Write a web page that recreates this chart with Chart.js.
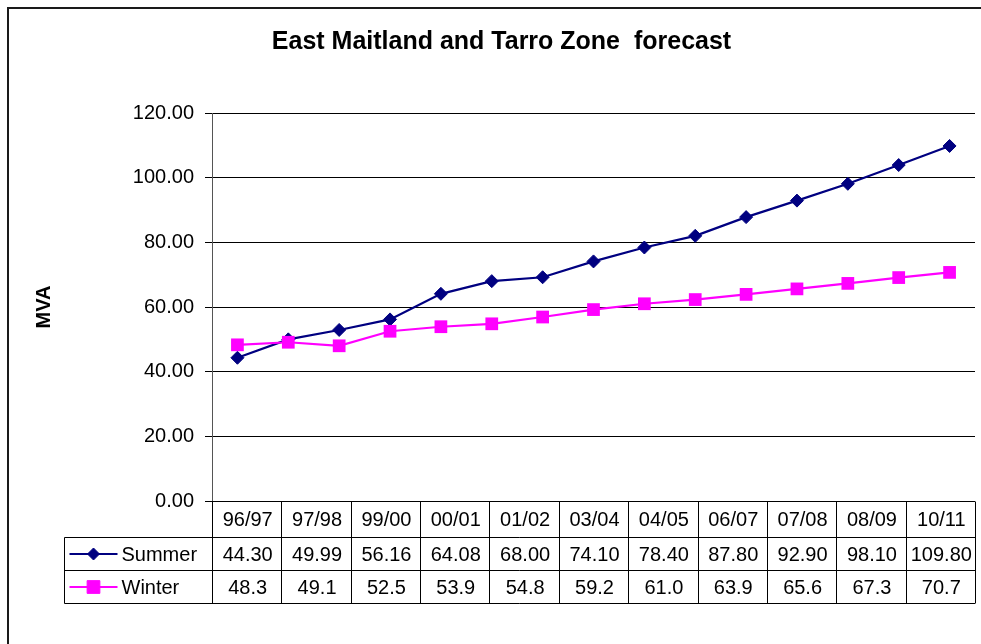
<!DOCTYPE html>
<html>
<head>
<meta charset="utf-8">
<title>East Maitland and Tarro Zone forecast</title>
<script src="https://cdn.jsdelivr.net/npm/chart.js@4.4.1/dist/chart.umd.min.js"></script>
<style>
  html, body { margin: 0; padding: 0; background: #ffffff; }
  canvas { display: block; }
</style>
</head>
<body>
<canvas id="chart" width="981" height="644"></canvas>
<script>
// Financial years plotted on the category axis
const seasons = ['96/97', '97/98', '98/99', '99/00', '00/01', '01/02', '02/03', '03/04',
                 '04/05', '05/06', '06/07', '07/08', '08/09', '09/10', '10/11'];
// Zone load forecast, MVA
const summer = [44.30, 49.99, 52.9, 56.16, 64.08, 68.00, 69.2, 74.10, 78.40, 82.0, 87.80, 92.90, 98.10, 103.9, 109.80];
const winter = [48.3, 49.1, 48.0, 52.5, 53.9, 54.8, 56.9, 59.2, 61.0, 62.3, 63.9, 65.6, 67.3, 69.1, 70.7];
// Years listed in the data table under the plot
const tableSeasons = ['96/97', '97/98', '99/00', '00/01', '01/02', '03/04', '04/05', '06/07', '07/08', '08/09', '10/11'];
// Value axis tick values
const yTicks = [0, 20, 40, 60, 80, 100, 120];

const FONT = '"Liberation Sans", Arial, Helvetica, sans-serif';
const SUMMER_COLOR = '#000080';
const WINTER_COLOR = '#FF00FF';

// Outer frame of the chart object
const framePlugin = {
  id: 'frame',
  beforeDraw(chart) {
    const ctx = chart.ctx;
    ctx.save();
    ctx.fillStyle = '#ffffff';
    ctx.fillRect(0, 0, chart.width, chart.height);
    ctx.strokeStyle = '#1a1a1a';
    ctx.lineWidth = 2;
    ctx.strokeRect(8, 8, chart.width + 20, chart.height + 20);
    ctx.restore();
  }
};

// Data table with legend keys below the plot area
const dataTablePlugin = {
  id: 'dataTable',
  afterDraw(chart) {
    const ctx = chart.ctx;
    const area = chart.chartArea;
    const left = area.left, right = area.right;
    const keyLeft = 64.5;
    const y0 = Math.round(area.bottom) + 0.5;
    const y1 = y0 + 36;
    const y2 = y1 + 33;
    const y3 = y2 + 33;
    const n = tableSeasons.length;
    const colW = (right - left) / n;
    const idx = tableSeasons.map(s => seasons.indexOf(s));

    ctx.save();
    ctx.strokeStyle = '#000000';
    ctx.lineWidth = 1;
    ctx.beginPath();
    // horizontal rules
    ctx.moveTo(left, y0); ctx.lineTo(right, y0);
    [y1, y2, y3].forEach(y => { ctx.moveTo(keyLeft, y); ctx.lineTo(right, y); });
    // legend column edge
    ctx.moveTo(keyLeft, y1); ctx.lineTo(keyLeft, y3);
    // column separators
    for (let i = 0; i <= n; i++) {
      const x = Math.round(left + i * colW) + 0.5;
      ctx.moveTo(x, y0); ctx.lineTo(x, y3);
    }
    ctx.stroke();

    ctx.fillStyle = '#000000';
    ctx.font = '20px ' + FONT;
    ctx.textAlign = 'center';
    ctx.textBaseline = 'middle';
    const rows = [
      { y: (y0 + y1) / 2, text: i => tableSeasons[i] },
      { y: (y1 + y2) / 2, text: i => summer[idx[i]].toFixed(2) },
      { y: (y2 + y3) / 2, text: i => winter[idx[i]].toFixed(1) }
    ];
    rows.forEach(r => {
      for (let i = 0; i < n; i++) {
        ctx.fillText(r.text(i), left + (i + 0.5) * colW + 1, r.y + 1);
      }
    });

    // legend keys
    const keys = [
      { y: (y1 + y2) / 2, label: 'Summer', color: SUMMER_COLOR, style: 'rectRot', radius: 6 },
      { y: (y2 + y3) / 2, label: 'Winter', color: WINTER_COLOR, style: 'rect', radius: 9 }
    ];
    keys.forEach(k => {
      ctx.strokeStyle = k.color;
      ctx.fillStyle = k.color;
      ctx.lineWidth = 2;
      ctx.beginPath();
      ctx.moveTo(keyLeft + 5, k.y);
      ctx.lineTo(keyLeft + 53, k.y);
      ctx.stroke();
      ctx.lineWidth = 1;
      Chart.helpers.drawPoint(ctx, { pointStyle: k.style, radius: k.radius, rotation: 0, borderWidth: 1 }, keyLeft + 29, k.y);
      ctx.fillStyle = '#000000';
      ctx.textAlign = 'left';
      ctx.fillText(k.label, keyLeft + 57, k.y + 1);
    });
    ctx.restore();
  }
};

new Chart(document.getElementById('chart'), {
  type: 'line',
  data: {
    labels: seasons,
    datasets: [
      {
        label: 'Summer',
        data: summer,
        order: 1,
        borderColor: SUMMER_COLOR,
        backgroundColor: SUMMER_COLOR,
        borderWidth: 2.2,
        pointStyle: 'rectRot',
        pointRadius: 6.5,
        pointBorderWidth: 1,
        tension: 0
      },
      {
        label: 'Winter',
        data: winter,
        order: 0,
        borderColor: WINTER_COLOR,
        backgroundColor: WINTER_COLOR,
        borderWidth: 2.2,
        pointStyle: 'rect',
        pointRadius: 9,
        pointBorderWidth: 0,
        tension: 0
      }
    ]
  },
  options: {
    responsive: false,
    devicePixelRatio: 1,
    animation: false,
    events: [],
    layout: { autoPadding: false, padding: { left: 28, right: 6, top: 0, bottom: 143 } },
    plugins: {
      legend: { display: false },
      tooltip: { enabled: false },
      title: {
        display: true,
        text: 'East Maitland and Tarro Zone  forecast',
        color: '#000000',
        font: { family: FONT, size: 25, weight: 'bold' },
        padding: { top: 27.5, bottom: 55.5 }
      }
    },
    scales: {
      x: {
        type: 'category',
        offset: true,
        grid: { display: false },
        border: { display: false },
        ticks: { display: false },
        afterFit(s) { s.height = 0; s.paddingLeft = 0; s.paddingRight = 0; }
      },
      y: {
        min: 0,
        max: 120,
        afterBuildTicks(s) { s.ticks = yTicks.map(v => ({ value: v })); },
        afterFit(s) { s.width = 212 - 28; s.paddingTop = 0; s.paddingBottom = 0; },
        grid: { color: '#000000', lineWidth: 1, tickLength: 7, drawTicks: true },
        border: { display: true, color: '#555555', width: 1 },
        ticks: {
          color: '#000000',
          padding: 11,
          font: { family: FONT, size: 20 },
          callback: v => Number(v).toFixed(2)
        },
        title: {
          display: true,
          text: 'MVA',
          color: '#000000',
          font: { family: FONT, size: 20, weight: 'bold' },
          padding: { top: 4, bottom: 0 }
        }
      }
    }
  },
  plugins: [framePlugin, dataTablePlugin]
});
</script>
</body>
</html>
